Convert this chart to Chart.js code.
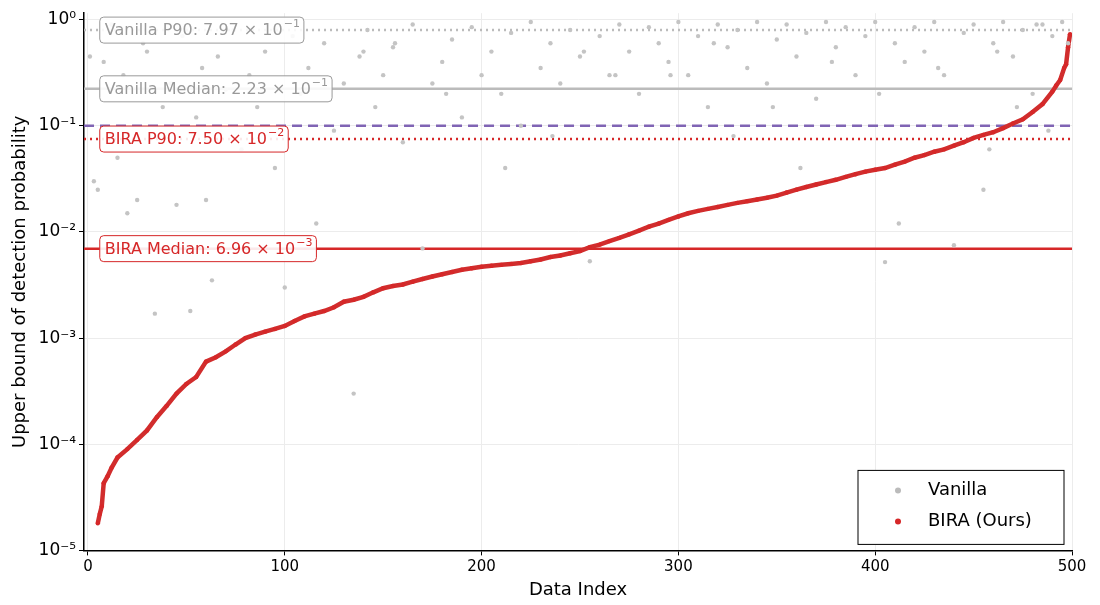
<!DOCTYPE html>
<html>
<head>
<meta charset="UTF-8">
<script src="https://cdn.jsdelivr.net/npm/chart.js"></script>
<style>
  body { margin: 0; background: #fff; font-family: 'DejaVu Sans', sans-serif; }
  #wrap { width: 1100px; height: 605px; }
</style>
</head>
<body>
<div id="wrap"><canvas id="c" width="1100" height="605"></canvas></div>
<script>
// BIRA (sorted) readings
const biraIndex = [5,6,7,8,10,12,15,20,25,30,35,40,45,50,55,60,65,70,75,80,85,90,95,100,105,110,115,120,125,130,135,140,145,150,155,160,165,170,175,180,185,190,195,200,205,210,215,220,225,230,235,240,245,250,255,260,265,270,275,280,285,290,295,300,305,310,315,320,325,330,335,340,345,350,355,360,365,370,375,380,385,390,395,400,405,410,415,420,425,430,435,440,445,450,455,460,465,470,475,480,485,490,492,494,496,497,498,499];
const biraValue = [1.8e-5,2.2e-5,2.6e-5,4.3e-5,5e-5,6e-5,7.5e-5,9e-5,1.1e-4,1.35e-4,1.8e-4,2.3e-4,3e-4,3.7e-4,4.3e-4,6e-4,6.6e-4,7.5e-4,8.7e-4,1e-3,1.08e-3,1.15e-3,1.22e-3,1.3e-3,1.45e-3,1.6e-3,1.7e-3,1.8e-3,1.95e-3,2.2e-3,2.3e-3,2.45e-3,2.7e-3,2.95e-3,3.1e-3,3.2e-3,3.4e-3,3.6e-3,3.8e-3,4.0e-3,4.2e-3,4.4e-3,4.55e-3,4.7e-3,4.8e-3,4.9e-3,5.0e-3,5.1e-3,5.3e-3,5.5e-3,5.8e-3,6.0e-3,6.3e-3,6.6e-3,7.2e-3,7.6e-3,8.2e-3,8.8e-3,9.5e-3,1.03e-2,1.12e-2,1.2e-2,1.3e-2,1.4e-2,1.5e-2,1.58e-2,1.65e-2,1.72e-2,1.8e-2,1.88e-2,1.95e-2,2.02e-2,2.1e-2,2.2e-2,2.35e-2,2.5e-2,2.65e-2,2.8e-2,2.95e-2,3.1e-2,3.3e-2,3.5e-2,3.7e-2,3.85e-2,4.0e-2,4.3e-2,4.6e-2,5.0e-2,5.3e-2,5.7e-2,6.0e-2,6.5e-2,7.0e-2,7.7e-2,8.2e-2,8.7e-2,9.5e-2,0.105,0.115,0.135,0.16,0.21,0.24,0.27,0.35,0.38,0.55,0.73];
// Vanilla scattered readings
const vanillaIndex = [1,3,5,8,12,15,18,20,25,28,30,34,38,42,45,48,52,55,58,63,66,70,74,78,82,86,90,95,100,104,108,112,116,120,125,130,135,138,142,146,150,155,160,165,170,175,180,185,190,195,200,205,210,215,220,225,230,235,240,245,250,255,260,265,270,275,280,285,290,295,300,305,310,315,320,325,330,335,340,345,350,355,360,365,370,375,380,385,390,395,400,405,410,415,420,425,430,435,440,445,450,455,460,465,470,475,480,485,490,495,498,252,328,362,412,458,472,488,156,182,236,296,60,140,212,268,318,348,378,402,432,462,482,492];
const vanillaValue = [0.45,0.03,0.025,0.4,0.9,0.05,0.3,0.015,0.02,0.6,0.5,0.0017,0.15,0.25,0.018,0.7,0.0018,0.12,0.35,0.0035,0.45,0.22,0.8,0.06,0.3,0.15,0.5,0.04,0.003,0.7,0.2,0.35,0.012,0.6,0.09,0.25,0.0003,0.45,0.8,0.15,0.3,0.55,0.07,0.9,0.007,0.25,0.4,0.65,0.12,0.85,0.3,0.5,0.2,0.75,0.1,0.95,0.35,0.6,0.25,0.8,0.45,0.0053,0.7,0.3,0.9,0.5,0.2,0.85,0.6,0.4,0.95,0.3,0.7,0.15,0.9,0.55,0.8,0.35,0.95,0.25,0.65,0.9,0.45,0.75,0.18,0.95,0.55,0.85,0.3,0.7,0.95,0.0052,0.6,0.4,0.85,0.5,0.95,0.3,0.0075,0.75,0.9,0.025,0.6,0.95,0.45,0.8,0.2,0.9,0.7,0.95,0.6,0.5,0.08,0.04,0.012,0.06,0.15,0.09,0.6,0.2,0.08,0.3,0.02,0.5,0.04,0.3,0.6,0.15,0.4,0.2,0.35,0.5,0.9];
const xTicks = [0,100,200,300,400,500];
const yTicks = [1e-5,1e-4,1e-3,1e-2,1e-1,1];
const yTickLabels = ['10⁻⁵','10⁻⁴','10⁻³','10⁻²','10⁻¹','10⁰'];
const lines = [
  { y: 0.797, color: '#bbbbbb', dash: [2,4], label: 'Vanilla P90: 7.97 × 10', exp: '−1', text: '#999999' },
  { y: 0.223, color: '#bbbbbb', dash: [], label: 'Vanilla Median: 2.23 × 10', exp: '−1', text: '#999999' },
  { y: 0.1, color: '#8064b4', dash: [10,6], label: null },
  { y: 0.075, color: '#d62728', dash: [2,4], label: 'BIRA P90: 7.50 × 10', exp: '−2', text: '#d62728' },
  { y: 0.00696, color: '#d62728', dash: [], label: 'BIRA Median: 6.96 × 10', exp: '−3', text: '#d62728' }
];

const overlay = {
  id: 'overlay',
  beforeDatasetsDraw(chart) {
    const { ctx, chartArea: a, scales: { y } } = chart;
    lines.forEach(l => {
      const py = y.getPixelForValue(l.y);
      ctx.save();
      ctx.strokeStyle = l.color; ctx.lineWidth = 2.5; ctx.setLineDash(l.dash);
      ctx.beginPath(); ctx.moveTo(a.left, py); ctx.lineTo(a.right, py); ctx.stroke();
      ctx.restore();
    });
  },
  afterDatasetsDraw(chart) {
    const { ctx, chartArea: a, scales: { x, y } } = chart;
    lines.forEach(l => {
      if (!l.label) return;
      const py = y.getPixelForValue(l.y);
      ctx.save();
      ctx.font = '16px DejaVu Sans';
      const w1 = ctx.measureText(l.label).width;
      ctx.font = '11px DejaVu Sans';
      const w2 = ctx.measureText(l.exp).width;
      const bx = x.getPixelForValue(6), bw = w1 + w2 + 10, bh = 26;
      ctx.fillStyle = 'rgba(255,255,255,0.9)';
      ctx.strokeStyle = l.text; ctx.lineWidth = 1;
      ctx.beginPath(); ctx.roundRect(bx, py - bh / 2, bw, bh, 4); ctx.fill(); ctx.stroke();
      ctx.fillStyle = l.text; ctx.textBaseline = 'middle';
      ctx.font = '16px DejaVu Sans';
      ctx.fillText(l.label, bx + 5, py + 1);
      ctx.font = '11px DejaVu Sans';
      ctx.fillText(l.exp, bx + 5 + w1 + 1, py - 6);
      ctx.restore();
    });
    // legend
    const lx = a.right - 214, ly = a.bottom - 80;
    ctx.save();
    ctx.fillStyle = '#fff'; ctx.strokeStyle = '#000'; ctx.lineWidth = 1;
    ctx.fillRect(lx, ly, 206, 74); ctx.strokeRect(lx, ly, 206, 74);
    ctx.font = '18px DejaVu Sans'; ctx.textBaseline = 'middle';
    [['Vanilla', '#bbbbbb', 20], ['BIRA (Ours)', '#d62728', 51]].forEach(([t, c, dy]) => {
      ctx.fillStyle = c; ctx.beginPath(); ctx.arc(lx + 40, ly + dy, 3, 0, Math.PI * 2); ctx.fill();
      ctx.fillStyle = '#000'; ctx.fillText(t, lx + 70, ly + dy);
    });
    ctx.restore();
  }
};

new Chart(document.getElementById('c'), {
  type: 'scatter',
  data: {
    datasets: [
      { label: 'Vanilla', data: vanillaIndex.map((v, i) => ({ x: v, y: vanillaValue[i] })), backgroundColor: '#c4c4c4', pointRadius: 2.2, borderWidth: 0 },
      { label: 'BIRA (Ours)', data: biraIndex.map((v, i) => ({ x: v, y: biraValue[i] })), backgroundColor: '#d62728', pointRadius: 2.2, pointBorderWidth: 0, showLine: true, borderColor: '#d12d2d', borderWidth: 4.5 }
    ]
  },
  options: {
    responsive: false, animation: false,
    layout: { padding: { top: 8, right: 28, left: 6 } },
    plugins: { legend: { display: false }, tooltip: { enabled: false } },
    scales: {
      x: {
        min: -2, max: 500,
        afterBuildTicks: s => { s.ticks = xTicks.map(v => ({ value: v })); },
        title: { display: true, text: 'Data Index', font: { size: 18, family: 'DejaVu Sans' }, color: '#000', padding: { top: 0 } },
        ticks: { color: '#000', font: { size: 15, family: 'DejaVu Sans' }, autoSkip: false, maxRotation: 0 },
        grid: { color: '#ececec', tickColor: '#000', tickLength: 5 },
        border: { color: '#000', width: 1.5 }
      },
      y: {
        type: 'logarithmic', min: 1e-5, max: 1.15,
        afterBuildTicks: s => { s.ticks = yTicks.map(v => ({ value: v })); },
        title: { display: true, text: 'Upper bound of detection probability', font: { size: 18, family: 'DejaVu Sans' }, color: '#000' },
        ticks: { color: '#000', font: { size: 17, family: 'DejaVu Sans' }, callback: v => yTickLabels[yTicks.findIndex(t => Math.abs(t - v) / t < 1e-6)] },
        grid: { color: '#ececec', tickColor: '#000', tickLength: 5 },
        border: { color: '#000', width: 1.5 }
      }
    }
  },
  plugins: [overlay]
});
</script>
</body>
</html>
